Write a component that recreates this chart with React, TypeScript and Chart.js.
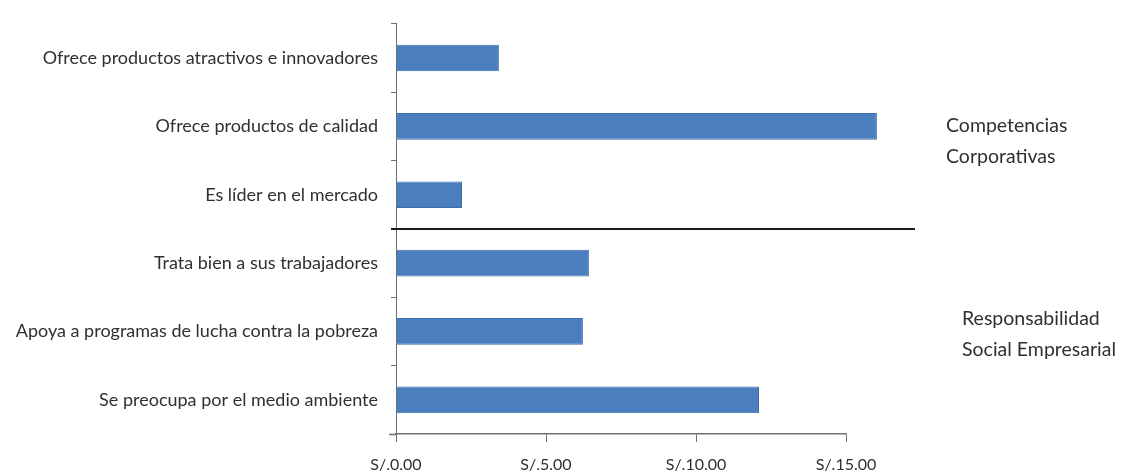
import React, { useEffect, useRef } from "react";
import { Chart, registerables } from "chart.js";

Chart.register(...registerables);

const categories = [
  "Ofrece productos atractivos e innovadores",
  "Ofrece productos de calidad",
  "Es líder en el mercado",
  "Trata bien a sus trabajadores",
  "Apoya a programas de lucha contra la pobreza",
  "Se preocupa por el medio ambiente",
];
const values = [3.43, 16.03, 2.2, 6.43, 6.23, 12.1];
const xTickValues = [0, 5, 10, 15];
const groupLines1 = ["Competencias", "Corporativas"];
const groupLines2 = ["Responsabilidad", "Social Empresarial"];
const groupMiddleIndex = [1, 4];
const dividerAfterIndex = 2;
const dividerEndValue = 17.3;

const FONT = "Lato, 'Liberation Sans', sans-serif";
const TEXT = "#303030";
const AXIS = "#6f6f6f";

const annotations = {
  id: "annotations",
  afterDatasetsDraw(chart: any) {
    const { ctx, chartArea, scales } = chart;
    const x = scales.x;
    const y = scales.y;
    ctx.save();
    // short extension of the value axis line to the left of the category axis
    ctx.strokeStyle = AXIS;
    ctx.lineWidth = 1.5;
    ctx.beginPath();
    ctx.moveTo(chartArea.left - 7, chartArea.bottom + 0.5);
    ctx.lineTo(chartArea.left, chartArea.bottom + 0.5);
    ctx.stroke();
    // divider line between groups
    const yDiv = (y.getPixelForValue(dividerAfterIndex) + y.getPixelForValue(dividerAfterIndex + 1)) / 2;
    ctx.strokeStyle = "#1a1a1a";
    ctx.lineWidth = 2;
    ctx.beginPath();
    ctx.moveTo(chartArea.left - 5, yDiv);
    ctx.lineTo(x.getPixelForValue(dividerEndValue), yDiv);
    ctx.stroke();
    // group labels
    ctx.fillStyle = TEXT;
    ctx.font = "19.5px " + FONT;
    ctx.textAlign = "left";
    ctx.textBaseline = "middle";
    const groups = [groupLines1, groupLines2];
    const dx = [100, 116];
    const dy = [-1, -13];
    groups.forEach((lines, g) => {
      const cy = y.getPixelForValue(groupMiddleIndex[g]) + dy[g];
      lines.forEach((t, i) => {
        ctx.fillText(t, chartArea.right + dx[g], cy + i * 31);
      });
    });
    ctx.restore();
  },
};

export default function App() {
  const ref = useRef<HTMLCanvasElement | null>(null);
  useEffect(() => {
    document.body.style.margin = "0";
    if (!ref.current) return;
    const chart = new Chart(ref.current, {
      type: "bar",
      data: {
        labels: categories,
        datasets: [
          {
            data: values,
            backgroundColor: "#4a7ebf",
            borderColor: "#3e6da8",
            borderWidth: 1,
            barPercentage: 0.39,
            categoryPercentage: 1,
            clip: false as any,
          },
        ],
      },
      options: {
        indexAxis: "y",
        animation: false,
        responsive: true,
        maintainAspectRatio: false,
        layout: { padding: { top: 18, right: 275, left: 0, bottom: 0 } },
        plugins: { legend: { display: false }, tooltip: { enabled: false } },
        scales: {
          x: {
            min: 0,
            max: 15,
            afterBuildTicks: (scale: any) => {
              scale.ticks = xTickValues.map((v) => ({ value: v }));
            },
            afterFit: (scale: any) => {
              scale.height = 41;
            },
            grid: { drawOnChartArea: false, drawTicks: true, tickLength: 8, color: AXIS },
            border: { display: true, color: AXIS, width: 1.5 },
            ticks: {
              padding: 13,
              color: TEXT,
              font: { family: FONT, size: 16 },
              callback: (v: any) => "S/." + Number(v).toFixed(2),
            },
          },
          y: {
            afterFit: (scale: any) => {
              scale.width = 396;
            },
            grid: { offset: true, drawOnChartArea: false, drawTicks: true, tickLength: 5, color: AXIS },
            border: { display: true, color: AXIS, width: 1 },
            ticks: {
              padding: 13,
              color: TEXT,
              font: { family: FONT, size: 18 },
              autoSkip: false,
            },
          },
        },
      },
      plugins: [annotations],
    });
    return () => chart.destroy();
  }, []);
  return (
    <div style={{ position: "absolute", left: 0, top: 0, width: 1121, height: 475 }}>
      <canvas ref={ref} />
    </div>
  );
}
